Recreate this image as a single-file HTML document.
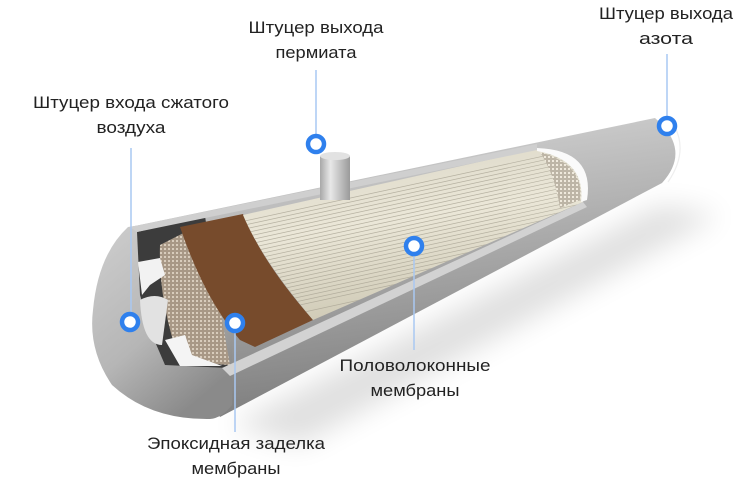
<!DOCTYPE html>
<html><head><meta charset="utf-8"><style>
html,body{margin:0;padding:0;background:#fff;}
svg{display:block}
text{font-family:"Liberation Sans",sans-serif;font-size:17px;fill:#222;text-anchor:middle}
</style></head><body>
<svg width="751" height="494" viewBox="0 0 751 494" xmlns="http://www.w3.org/2000/svg">
<defs>
<linearGradient id="body" x1="0" y1="0" x2="0.25" y2="1">
<stop offset="0" stop-color="#dcdcdc"/><stop offset="0.45" stop-color="#b4b4b4"/><stop offset="1" stop-color="#7e7e7e"/></linearGradient>
<linearGradient id="disc" x1="0" y1="0" x2="0.6" y2="1">
<stop offset="0" stop-color="#cfcfcf"/><stop offset="0.6" stop-color="#b6b6b6"/><stop offset="1" stop-color="#8a8a8a"/></linearGradient>
<linearGradient id="fib" x1="0" y1="0" x2="0.3" y2="1">
<stop offset="0" stop-color="#d8d4c4"/><stop offset="0.5" stop-color="#ebe7d8"/><stop offset="1" stop-color="#cfcab6"/></linearGradient>
<linearGradient id="pipe" x1="0" y1="0" x2="1" y2="0">
<stop offset="0" stop-color="#a8a8a8"/><stop offset="0.35" stop-color="#e8e8e8"/><stop offset="1" stop-color="#9a9a9a"/></linearGradient>
<pattern id="mesh" width="4" height="4" patternUnits="userSpaceOnUse">
<rect width="4" height="4" fill="#a89886"/><rect width="2" height="2" fill="#d8ccbc"/></pattern>
<pattern id="mesh2" width="4" height="4" patternUnits="userSpaceOnUse">
<rect width="4" height="4" fill="#bdb5a6"/><rect width="2" height="2" fill="#efe9dc"/></pattern>
<filter id="blur" x="-20%" y="-50%" width="140%" height="200%"><feGaussianBlur stdDeviation="14"/></filter>
<clipPath id="fclip"><path d="M243,215 L537,149 Q590,160 583,202 L313,320 Q262,260 243,215 Z"/></clipPath>
</defs>
<path d="M230,425 L660,205 L720,215 L300,445 Z" fill="#000" opacity="0.12" filter="url(#blur)"/>
<path d="M130,227 L655,118 Q692,150 662,183 L220,417 Z" fill="url(#body)"/>
<path d="M672,122 Q690,150 668,182" stroke="#eee" stroke-width="1.2" fill="none"/>
<path d="M128,227 L160,222 L232,240 L232,405 Q222,418 210,419 Q150,420 112,385 Q88,350 93,310 Q98,255 128,227 Z" fill="url(#disc)"/>
<path d="M137,232 L205,216 L228,368 L165,365 L150,330 L140,295 Z" fill="#3c3c3c"/>
<path d="M160,245 L205,222 L230,365 L180,362 Q158,300 160,245 Z" fill="url(#mesh)"/>
<path d="M138,262 L160,258 L165,275 L150,285 L142,295 Z" fill="#f2f2f2"/>
<path d="M140,300 Q155,292 168,300 L162,345 Q142,345 140,300 Z" fill="#e2e2e2"/>
<path d="M165,340 L185,335 L192,355 L222,366 L180,366 Z" fill="#f4f4f4"/>
<path d="M180,227 L243,214 Q262,262 313,320 L255,347 L240,340 Q205,300 180,227 Z" fill="#774b2c"/>
<path d="M243,215 L537,149 Q590,160 583,202 L313,320 Q262,260 243,215 Z" fill="url(#fib)"/>
<g clip-path="url(#fclip)" stroke="#a9a494" stroke-width="0.7" opacity="0.8">
<line x1="240" y1="222" x2="590" y2="146"/><line x1="240" y1="230" x2="590" y2="154"/>
<line x1="240" y1="238" x2="590" y2="162"/><line x1="240" y1="246" x2="590" y2="170"/>
<line x1="240" y1="254" x2="590" y2="178"/><line x1="240" y1="262" x2="590" y2="186"/>
<line x1="240" y1="270" x2="590" y2="194"/><line x1="240" y1="278" x2="590" y2="202"/>
<line x1="240" y1="286" x2="590" y2="210"/><line x1="240" y1="294" x2="590" y2="218"/>
<line x1="240" y1="302" x2="590" y2="226"/><line x1="240" y1="310" x2="590" y2="234"/>
<line x1="240" y1="318" x2="590" y2="242"/><line x1="240" y1="326" x2="590" y2="250"/>
<line x1="240" y1="226" x2="590" y2="150"/><line x1="240" y1="234" x2="590" y2="158"/>
<line x1="240" y1="242" x2="590" y2="166"/><line x1="240" y1="250" x2="590" y2="174"/>
<line x1="240" y1="258" x2="590" y2="182"/><line x1="240" y1="266" x2="590" y2="190"/>
<line x1="240" y1="274" x2="590" y2="198"/><line x1="240" y1="282" x2="590" y2="206"/>
<line x1="240" y1="290" x2="590" y2="214"/><line x1="240" y1="298" x2="590" y2="222"/>
<line x1="240" y1="306" x2="590" y2="230"/><line x1="240" y1="314" x2="590" y2="238"/>
</g>
<path d="M540,152 Q585,165 580,200 L560,208 Q555,175 540,152 Z" fill="url(#mesh2)"/>
<path d="M537,148 Q595,150 587,200 L581,202 Q586,160 537,151 Z" fill="#fafafa"/>
<path d="M130,227 L537,144 L537,150 L205,218 L137,232 Z" fill="#cfcfcf"/>
<path d="M222,368 L583,202 L587,207 L230,376 Z" fill="#d2d2d2"/>
<rect x="320" y="156" width="30" height="44" fill="url(#pipe)"/>
<ellipse cx="335" cy="156" rx="15" ry="4" fill="#e2e2e2"/>
<g stroke="#a9c8f2" stroke-width="1.5">
<line x1="316" y1="70" x2="316" y2="134"/>
<line x1="667" y1="54" x2="667" y2="117"/>
<line x1="131" y1="148" x2="131" y2="313"/>
<line x1="235" y1="332" x2="235" y2="432"/>
<line x1="414" y1="255" x2="414" y2="350"/>
</g>
<g fill="#fff" stroke="#2f80ed" stroke-width="4.5">
<circle cx="316" cy="144" r="8"/>
<circle cx="667" cy="126" r="8"/>
<circle cx="130" cy="322" r="8"/>
<circle cx="235" cy="323" r="8"/>
<circle cx="414" cy="246" r="8"/>
</g>
<text x="316" y="33" textLength="135" lengthAdjust="spacingAndGlyphs">Штуцер выхода</text>
<text x="316" y="58" textLength="81" lengthAdjust="spacingAndGlyphs">пермиата</text>
<text x="666" y="19" textLength="134" lengthAdjust="spacingAndGlyphs">Штуцер выхода</text>
<text x="666" y="44" textLength="54" lengthAdjust="spacingAndGlyphs">азота</text>
<text x="131" y="108" textLength="196" lengthAdjust="spacingAndGlyphs">Штуцер входа сжатого</text>
<text x="131" y="133" textLength="69" lengthAdjust="spacingAndGlyphs">воздуха</text>
<text x="415" y="371" textLength="151" lengthAdjust="spacingAndGlyphs">Половолоконные</text>
<text x="415" y="396" textLength="89" lengthAdjust="spacingAndGlyphs">мембраны</text>
<text x="236" y="449" textLength="178" lengthAdjust="spacingAndGlyphs">Эпоксидная заделка</text>
<text x="236" y="474" textLength="89" lengthAdjust="spacingAndGlyphs">мембраны</text>
</svg>
</body></html>
